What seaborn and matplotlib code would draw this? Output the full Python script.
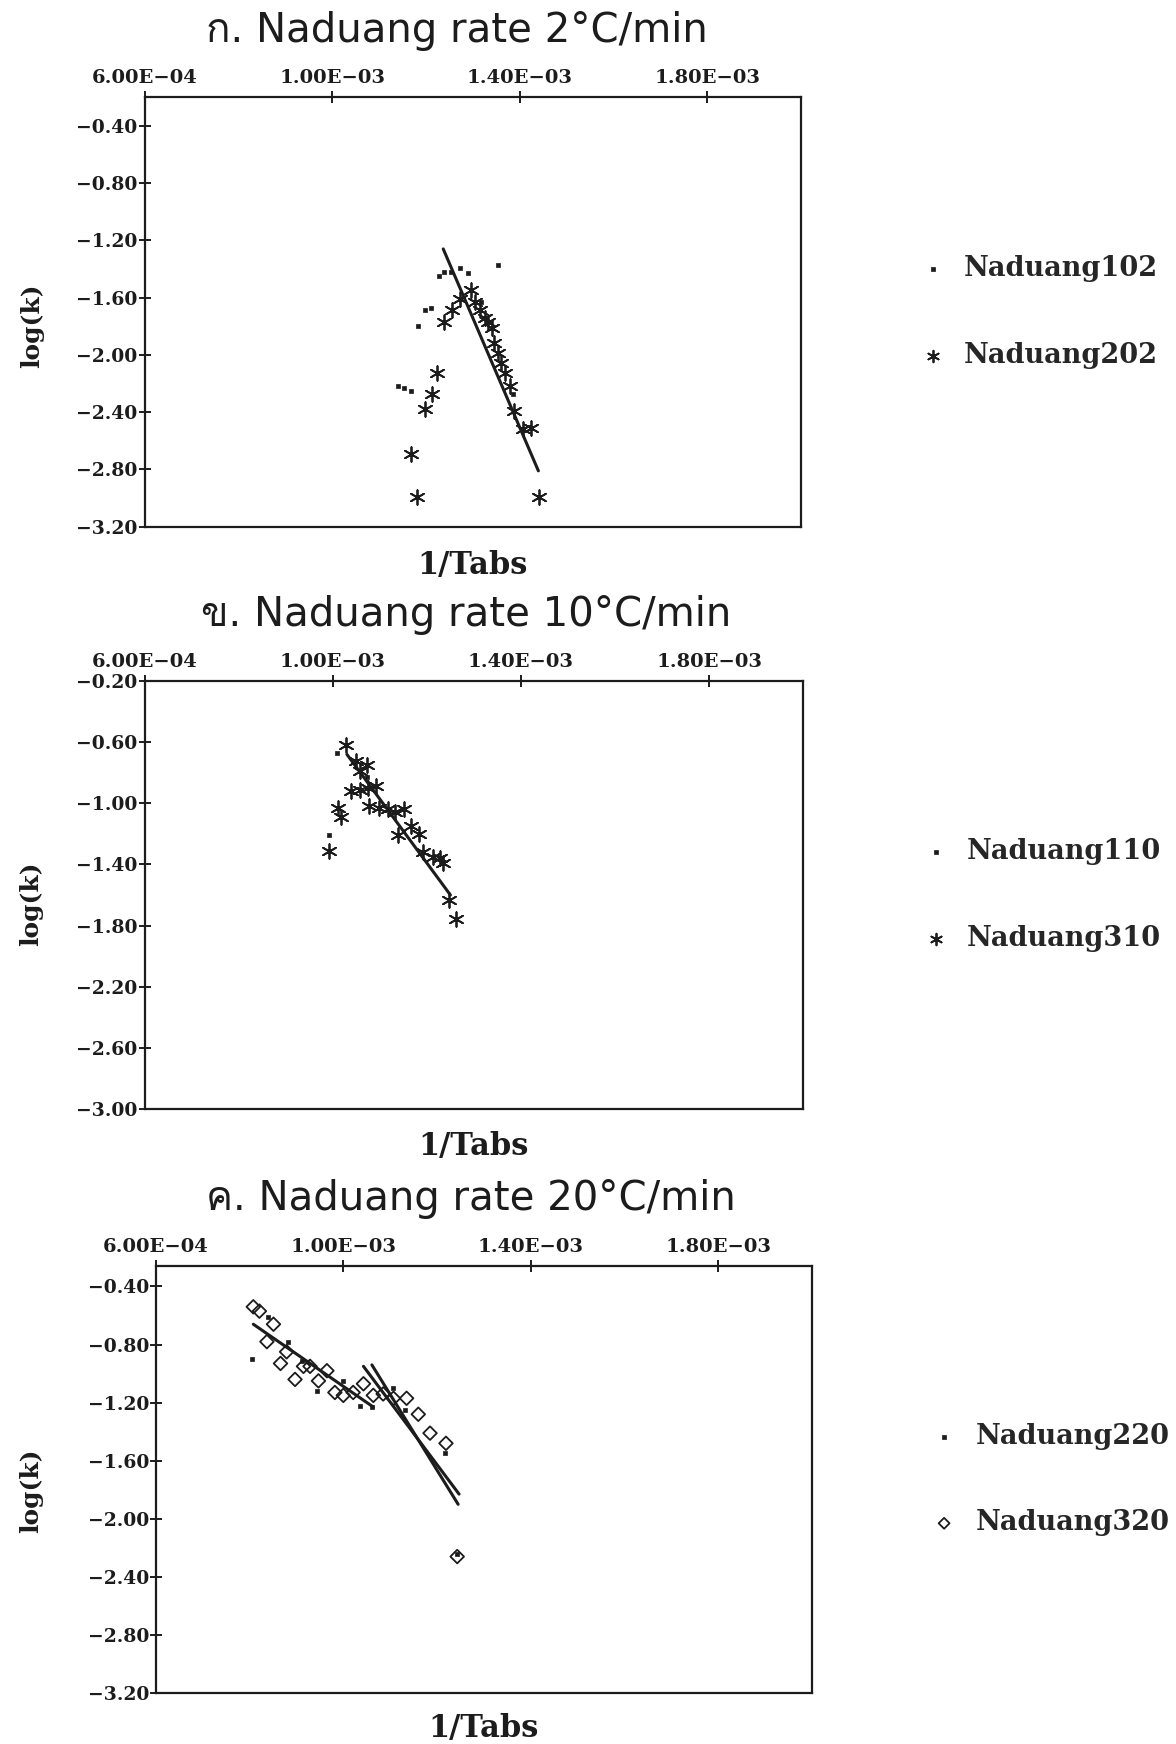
"""Arrhenius-type plots of log(k) against 1/Tabs for three Naduang heating rates."""

import matplotlib

matplotlib.use("Agg")

import matplotlib.pyplot as plt
import numpy as np
import seaborn as sns
from fontTools.ttLib import TTFont
from matplotlib import font_manager

INK = "#1c1c1c"
TICK_FONT = "DejaVu Serif"

# ---- data ------------------------------------------------------------------
X_TICKS = [6.0e-4, 1.0e-3, 1.4e-3, 1.8e-3]
X_LIM = (6.0e-4, 2.0e-3)

# panel ก. rate 2 °C/min
TITLE_A = "ก. Naduang rate 2°C/min"
Y_TICKS_A = [-0.4, -0.8, -1.2, -1.6, -2.0, -2.4, -2.8, -3.2]
N102_X = [1.140e-3, 1.154e-3, 1.169e-3, 1.183e-3, 1.198e-3, 1.210e-3, 1.227e-3,
          1.239e-3, 1.253e-3, 1.273e-3, 1.289e-3, 1.318e-3, 1.354e-3, 1.386e-3]
N102_Y = [-2.22, -2.23, -2.25, -1.80, -1.69, -1.67, -1.45,
          -1.42, -1.42, -1.39, -1.43, -1.63, -1.37, -2.27]
N202_X = [1.239e-3, 1.255e-3, 1.273e-3, 1.297e-3, 1.304e-3, 1.315e-3, 1.326e-3,
          1.333e-3, 1.340e-3, 1.346e-3, 1.354e-3, 1.361e-3, 1.368e-3, 1.379e-3,
          1.389e-3, 1.407e-3, 1.424e-3, 1.223e-3, 1.212e-3, 1.198e-3, 1.169e-3,
          1.181e-3, 1.442e-3]
N202_Y = [-1.77, -1.69, -1.61, -1.55, -1.63, -1.69, -1.74,
          -1.77, -1.81, -1.92, -1.99, -2.06, -2.13, -2.22,
          -2.39, -2.52, -2.51, -2.13, -2.27, -2.38, -2.69,
          -2.99, -2.99]
FIT_A_X = [1.237e-3, 1.440e-3]
FIT_A_Y = [-1.26, -2.81]

# panel ข. rate 10 °C/min
TITLE_B = "ข. Naduang rate 10°C/min"
Y_TICKS_B = [-0.2, -0.6, -1.0, -1.4, -1.8, -2.2, -2.6, -3.0]
N110_X = [1.009e-3, 9.91e-4, 1.072e-3]
N110_Y = [-0.67, -1.21, -0.83]
N310_X = [1.029e-3, 1.050e-3, 1.072e-3, 1.057e-3, 1.092e-3, 1.039e-3, 1.057e-3,
          1.075e-3, 1.011e-3, 1.018e-3, 1.078e-3, 1.099e-3, 1.117e-3, 1.133e-3,
          1.152e-3, 1.138e-3, 1.167e-3, 1.184e-3, 1.191e-3, 1.212e-3, 1.227e-3,
          1.234e-3, 1.248e-3, 1.262e-3, 9.92e-4]
N310_Y = [-0.62, -0.72, -0.75, -0.79, -0.89, -0.92, -0.91,
          -0.90, -1.03, -1.09, -1.02, -1.03, -1.04, -1.06,
          -1.04, -1.21, -1.15, -1.20, -1.32, -1.35, -1.36,
          -1.39, -1.63, -1.76, -1.31]
FIT_B_X = [1.030e-3, 1.250e-3]
FIT_B_Y = [-0.68, -1.60]

# panel ค. rate 20 °C/min
TITLE_C = "ค. Naduang rate 20°C/min"
Y_TICKS_C = [-0.4, -0.8, -1.2, -1.6, -2.0, -2.4, -2.8, -3.2]
N220_X = [8.06e-4, 8.40e-4, 8.83e-4, 9.11e-4, 9.43e-4, 1.000e-3, 1.036e-3,
          1.061e-3, 1.107e-3, 1.132e-3, 1.217e-3, 1.242e-3]
N220_Y = [-0.90, -0.61, -0.78, -0.91, -1.12, -1.05, -1.22,
          -1.23, -1.10, -1.25, -1.55, -2.24]
N320_X = [8.08e-4, 8.21e-4, 8.51e-4, 8.37e-4, 8.79e-4, 8.66e-4, 8.97e-4,
          9.15e-4, 9.29e-4, 9.47e-4, 9.65e-4, 9.82e-4, 1.000e-3, 1.021e-3,
          1.043e-3, 1.064e-3, 1.085e-3, 1.107e-3, 1.135e-3, 1.160e-3, 1.185e-3,
          1.219e-3, 1.243e-3]
N320_Y = [-0.54, -0.57, -0.66, -0.78, -0.85, -0.93, -1.04,
          -0.95, -0.95, -1.05, -0.98, -1.13, -1.15, -1.13,
          -1.07, -1.15, -1.14, -1.17, -1.17, -1.28, -1.41,
          -1.48, -2.26]
FIT_C1_X = [8.08e-4, 1.064e-3]
FIT_C1_Y = [-0.66, -1.23]
FIT_C2_X = [1.043e-3, 1.247e-3]
FIT_C2_Y = [-0.95, -1.83]
FIT_C3_X = [1.061e-3, 1.245e-3]
FIT_C3_Y = [-0.94, -1.90]

# ---- marker styles ----------------------------------------------------------
DOT = dict(marker="s", s=12, color=INK, edgecolor=INK, linewidth=0.5)
STAR = dict(marker=(6, 2, 0), s=110, color=INK, linewidth=1.3)
DIAMOND = dict(marker="D", s=48, facecolor="none", edgecolor=INK, linewidth=1.3)

PANELS = [
    dict(title=TITLE_A, rect=[0.123, 0.698, 0.558, 0.2463], ylim=(-3.2, -0.2),
         yticks=Y_TICKS_A,
         series=[("Naduang102", N102_X, N102_Y, DOT), ("Naduang202", N202_X, N202_Y, STAR)],
         fits=[(FIT_A_X, FIT_A_Y)],
         title_xy=(0.476, 1.155), ylabel_xy=(-0.172, 0.467), xlabel_y=-0.09),
    dict(title=TITLE_B, rect=[0.123, 0.3641, 0.560, 0.2454], ylim=(-3.0, -0.2),
         yticks=Y_TICKS_B,
         series=[("Naduang110", N110_X, N110_Y, DOT), ("Naduang310", N310_X, N310_Y, STAR)],
         fits=[(FIT_B_X, FIT_B_Y)],
         title_xy=(0.488, 1.155), ylabel_xy=(-0.172, 0.48), xlabel_y=-0.087),
    dict(title=TITLE_C, rect=[0.1325, 0.0292, 0.558, 0.2448], ylim=(-3.2, -0.26),
         yticks=Y_TICKS_C,
         series=[("Naduang220", N220_X, N220_Y, DOT), ("Naduang320", N320_X, N320_Y, DIAMOND)],
         fits=[(FIT_C1_X, FIT_C1_Y), (FIT_C2_X, FIT_C2_Y), (FIT_C3_X, FIT_C3_Y)],
         title_xy=(0.48, 1.157), ylabel_xy=(-0.19, 0.475), xlabel_y=-0.082),
]


def thai_family() -> str | None:
    """Return the name of an installed font that has Thai glyphs, if any."""

    for entry in font_manager.fontManager.ttflist:
        try:
            with TTFont(entry.fname, fontNumber=0, lazy=True) as font:
                cmap = font.getBestCmap()
        except Exception:
            continue
        if cmap and 0x0E01 in cmap:
            return entry.name
    return None


def minus(text: str) -> str:
    return text.replace("-", "\u2212")


def draw_panel(fig, spec, title_family):
    ax = fig.add_axes(spec["rect"])

    for xs, ys in spec["fits"]:
        sns.lineplot(x=xs, y=ys, color=INK, linewidth=2.2, estimator=None,
                     sort=False, ax=ax)
    for label, xs, ys, style in spec["series"]:
        sns.scatterplot(x=xs, y=ys, label=label, ax=ax, **style)

    ax.set_xlim(*X_LIM)
    ax.set_ylim(*spec["ylim"])
    ax.set_xticks(X_TICKS)
    ax.set_xticklabels([minus(f"{v:.2E}") for v in X_TICKS])
    ax.set_yticks(spec["yticks"])
    ax.set_yticklabels([minus(f"{v:.2f}") for v in spec["yticks"]])
    ax.xaxis.tick_top()
    ax.tick_params(axis="x", direction="inout", length=9, width=1.4, pad=3,
                   labelsize=14, colors=INK)
    ax.tick_params(axis="y", direction="inout", length=8, width=1.4, pad=1,
                   labelsize=13.5, colors=INK)
    for lab in ax.get_xticklabels() + ax.get_yticklabels():
        lab.set_fontfamily(TICK_FONT)
        lab.set_fontweight("bold")
    for spine in ax.spines.values():
        spine.set_visible(True)
        spine.set_linewidth(1.6)
        spine.set_color(INK)

    ax.set_xlabel("")
    ax.set_ylabel("")
    ax.text(0.5, spec["xlabel_y"], "1/Tabs", transform=ax.transAxes, ha="center",
            va="center", fontsize=22, fontweight="bold", family=TICK_FONT, color=INK)
    lx, ly = spec["ylabel_xy"]
    ax.text(lx, ly, "log(k)", transform=ax.transAxes, ha="center",
            va="center", rotation=90, fontsize=18, fontweight="bold",
            family=TICK_FONT, color=INK)
    tx, ty = spec["title_xy"]
    ax.text(tx, ty, spec["title"], transform=ax.transAxes, ha="center", va="center",
            fontsize=29, family=title_family, color=INK)

    ax.legend(loc="center left", bbox_to_anchor=(1.16, 0.5), frameon=False,
              borderpad=0, handlelength=1.0, handletextpad=0.65, labelspacing=2.2,
              markerscale=0.8,
              prop=dict(family=TICK_FONT, weight="bold", size=19.5))
    ax.grid(False)
    return ax


def main() -> None:
    sns.set_style("ticks")
    thai = thai_family()
    title_family = ["DejaVu Sans"] + ([thai] if thai else [])
    plt.rcParams["font.family"] = title_family

    fig = plt.figure(figsize=(11.76, 17.44), dpi=100)
    fig.patch.set_facecolor("white")
    for spec in PANELS:
        draw_panel(fig, spec, title_family)
    fig.savefig("out.png", dpi=100, facecolor="white")


if __name__ == "__main__":
    main()
